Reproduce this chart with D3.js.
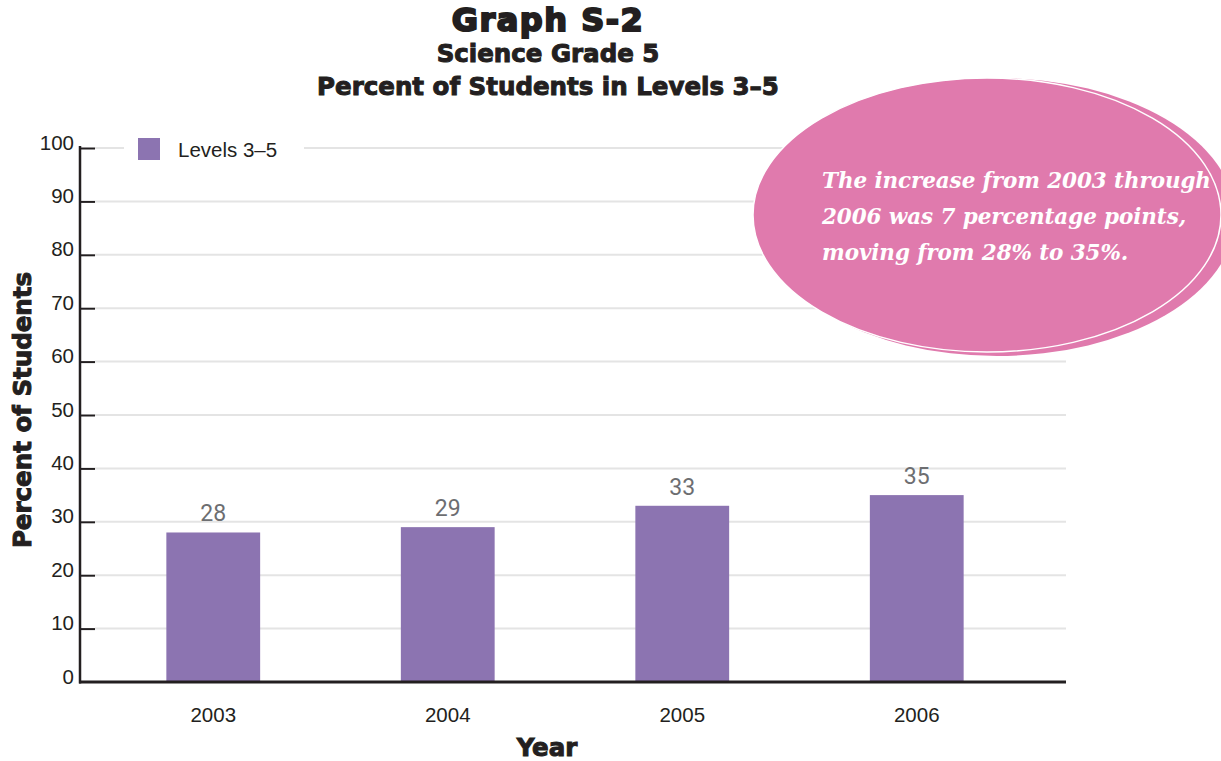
<!DOCTYPE html>
<html>
<head>
<meta charset="utf-8">
<script src="https://cdn.jsdelivr.net/npm/d3@7"></script>
<style>
  html, body { margin: 0; padding: 0; background: #fff; }
  svg { display: block; }
</style>
</head>
<body>
<svg id="chart" width="1221" height="761"></svg>
<script>
// Science Grade 5 — percent of students scoring in Levels 3–5
const years = ["2003", "2004", "2005", "2006"];
const levels35 = [28, 29, 33, 35];
const yTicks = [0, 10, 20, 30, 40, 50, 60, 70, 80, 90, 100];
const titleLines = ["Graph S-2", "Science Grade 5", "Percent of Students in Levels 3–5"];
const calloutLines = [
  "The increase from 2003 through",
  "2006 was 7 percentage points,",
  "moving from 28% to 35%."
];
const seriesName = "Levels 3–5";

const svg = d3.select("#chart");
const sans = "'Liberation Sans', Arial, Helvetica, sans-serif";
const heavy = "'DejaVu Sans', 'Liberation Sans', sans-serif";
const ink = "#231f20";

const axisX = 80, plotRight = 1066, plotTop = 148, plotBottom = 682;

const y = d3.scaleLinear().domain([0, 100]).range([plotBottom, plotTop]);
const x = d3.scaleBand().domain(years).range([96, 1034]).paddingInner(0.6).paddingOuter(0.3);

// gridlines
svg.append("g").selectAll("line")
  .data(yTicks.filter(d => d > 0))
  .join("line")
  .attr("x1", axisX + 15).attr("x2", plotRight)
  .attr("y1", d => y(d)).attr("y2", d => y(d))
  .attr("stroke", "#e4e4e4").attr("stroke-width", 2);

// y axis (ticks inside, labels to the left)
const yAxis = d3.axisRight(y).tickValues(yTicks).tickSize(15).tickPadding(0).tickFormat(d3.format("d"));
const gy = svg.append("g").attr("transform", `translate(${axisX},0)`).call(yAxis);
gy.select(".domain").remove();
gy.selectAll(".tick line").attr("stroke", ink).attr("stroke-width", 2);
gy.selectAll(".tick text")
  .attr("x", -6).attr("dy", "0.05em")
  .attr("text-anchor", "end")
  .attr("fill", ink)
  .style("font-family", sans).style("font-size", "20.5px");
gy.selectAll(".tick").filter(d => d === 0).select("line").remove();

// bars
svg.append("g").selectAll("rect")
  .data(levels35)
  .join("rect")
  .attr("x", (d, i) => x(years[i]))
  .attr("y", d => y(d))
  .attr("width", x.bandwidth())
  .attr("height", d => y(0) - y(d))
  .attr("fill", "#8c74b1");

// value labels
svg.append("g").selectAll("text")
  .data(levels35)
  .join("text")
  .attr("x", (d, i) => x(years[i]) + x.bandwidth() / 2)
  .attr("y", d => y(d) - 11)
  .attr("text-anchor", "middle")
  .attr("fill", "#6d6e71")
  .style("font-family", "Roboto, 'Liberation Sans', sans-serif")
  .style("font-size", "23px")
  .text(d => d);

// axis lines
svg.append("line")
  .attr("x1", axisX).attr("x2", axisX)
  .attr("y1", plotTop - 2).attr("y2", plotBottom + 1.5)
  .attr("stroke", ink).attr("stroke-width", 2.5);
svg.append("line")
  .attr("x1", axisX - 1).attr("x2", plotRight)
  .attr("y1", plotBottom).attr("y2", plotBottom)
  .attr("stroke", ink).attr("stroke-width", 3);

// x axis labels
const xAxis = d3.axisBottom(x).tickSize(0).tickPadding(0);
const gx = svg.append("g").attr("transform", `translate(0,${plotBottom})`).call(xAxis);
gx.select(".domain").remove();
gx.selectAll(".tick text")
  .attr("y", 40).attr("dy", 0)
  .attr("fill", ink)
  .style("font-family", sans).style("font-size", "20.5px");

// legend
const legend = svg.append("g");
legend.append("rect").attr("x", 124).attr("y", 136).attr("width", 180).attr("height", 26).attr("fill", "#fff");
legend.append("rect").attr("x", 138).attr("y", 138).attr("width", 22).attr("height", 22).attr("fill", "#8c74b1");
legend.append("text").attr("x", 178).attr("y", 157)
  .attr("fill", ink)
  .style("font-family", sans).style("font-size", "20.5px")
  .text(seriesName);

// titles
const titleSizes = [32, 24.5, 24.5];
const titleY = [31, 62, 95];
const titleSpacing = [1.5, 0, 0];
svg.append("g").selectAll("text")
  .data(titleLines)
  .join("text")
  .attr("x", 548)
  .attr("y", (d, i) => titleY[i])
  .attr("text-anchor", "middle")
  .attr("fill", ink)
  .attr("stroke", ink).attr("stroke-width", (d, i) => i === 0 ? 2 : 1)
  .style("font-family", heavy).style("font-weight", "bold")
  .style("font-size", (d, i) => titleSizes[i] + "px")
  .style("letter-spacing", (d, i) => titleSpacing[i] + "px")
  .text(d => d);

// axis titles
svg.append("text")
  .attr("transform", "translate(31,410) rotate(-90)")
  .attr("text-anchor", "middle")
  .attr("fill", ink).attr("stroke", ink).attr("stroke-width", 1)
  .style("font-family", heavy).style("font-weight", "bold").style("font-size", "24.5px")
  .text("Percent of Students");
svg.append("text")
  .attr("x", 547).attr("y", 756)
  .attr("text-anchor", "middle")
  .attr("fill", ink).attr("stroke", ink).attr("stroke-width", 1)
  .style("font-family", heavy).style("font-weight", "bold").style("font-size", "24.5px")
  .text("Year");

// callout bubble
const callout = svg.append("g");
callout.append("ellipse")
  .attr("cx", 997).attr("cy", 217).attr("rx", 238).attr("ry", 139)
  .attr("fill", "#e07aad");
callout.append("ellipse")
  .attr("cx", 987).attr("cy", 215).attr("rx", 234).attr("ry", 137)
  .attr("fill", "#e07aad").attr("stroke", "#fff").attr("stroke-width", 1.5);
callout.append("g").selectAll("text")
  .data(calloutLines)
  .join("text")
  .attr("x", 822)
  .attr("y", (d, i) => 188 + i * 36)
  .attr("fill", "#fff")
  .style("font-family", "'DejaVu Serif', 'Liberation Serif', serif")
  .style("font-style", "italic").style("font-weight", "bold")
  .style("font-size", "21.5px")
  .style("letter-spacing", "-0.1px")
  .text(d => d);
</script>
</body>
</html>
